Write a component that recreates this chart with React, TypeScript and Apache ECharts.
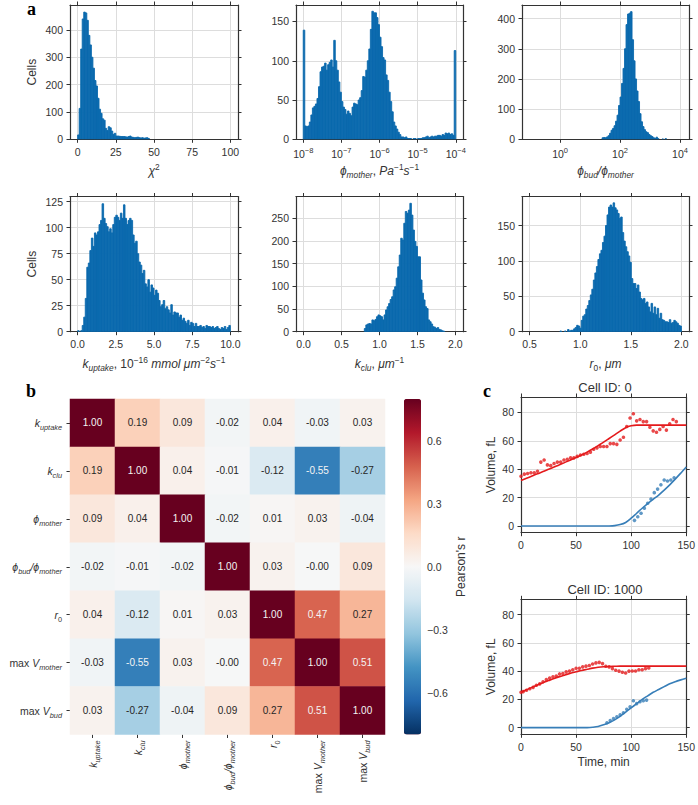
import React, { useEffect, useRef } from "react";
import * as echarts from "echarts";

const HIST_COLOR = "#0b6aae";
const RED = "#e41a1c";
const BLUE = "#377eb8";
const AXIS = "#333333";
const GRIDC = "#dddddd";
const TXT = "#333333";
const FONT = '"Liberation Sans", Arial, sans-serif';

// ---------- panel a: histograms ----------
const chiStart = 0;
const chiWidth = 1;
const chiCounts = [16, 113, 330, 440, 465, 462, 435, 380, 345, 300, 260, 215, 195, 150, 110, 95, 75, 70, 40, 32, 46, 42, 30, 18, 22, 12, 12, 11, 10, 10, 10, 9, 8, 10, 12, 8, 7, 6, 7, 8, 6, 5, 6, 4, 5, 6, 3];
const chiXTicks = [0, 25, 50, 75, 100];
const chiYTicks = [0, 100, 200, 300, 400];

const phiMotherStart = -8; // log10
const phiMotherWidth = 0.04;
const phiMotherCounts = [139, 17, 16, 17, 22, 31, 40, 42, 45, 52, 67, 86, 92, 93, 97, 88, 95, 98, 101, 92, 126, 100, 88, 73, 60, 48, 41, 38, 32, 36, 33, 30, 41, 46, 45, 44, 50, 53, 62, 80, 79, 88, 100, 115, 140, 163, 161, 161, 155, 146, 130, 118, 104, 101, 82, 75, 60, 48, 35, 22, 17, 13, 9, 6, 3, 3, 2, 3, 1, 1, 1, 0, 1, 1, 0, 1, 1, 1, 2, 2, 3, 4, 2, 3, 4, 3, 4, 4, 5, 5, 4, 6, 5, 8, 7, 8, 6, 7, 5, 113];
const phiMotherXTicks = [-8, -7, -6, -5, -4];
const phiMotherYTicks = [0, 50, 100, 150];

const ratioStart = 1.4; // log10
const ratioWidth = 0.05;
const ratioCounts = [5, 6, 5, 8, 12, 20, 30, 36, 45, 60, 80, 112, 140, 185, 235, 300, 380, 415, 418, 423, 330, 260, 200, 160, 125, 85, 58, 42, 32, 25, 22, 16, 12, 9, 5, 3, 7, 2, 0, 0, 1, 0, 2];
const ratioXTicks = [0, 2, 4];
const ratioYTicks = [0, 100, 200, 300, 400];

const kUptakeStart = 0;
const kUptakeWidth = 0.1;
const kUptakeCounts = [1, 0, 1, 6, 14, 32, 62, 66, 78, 90, 82, 95, 93, 96, 103, 107, 123, 109, 104, 101, 96, 99, 95, 103, 110, 112, 110, 107, 114, 109, 122, 109, 103, 107, 109, 107, 93, 85, 87, 75, 67, 64, 56, 59, 46, 43, 50, 38, 45, 42, 35, 40, 37, 30, 24, 26, 30, 22, 24, 21, 18, 26, 16, 19, 18, 18, 14, 16, 11, 13, 10, 8, 11, 6, 9, 8, 5, 8, 5, 5, 6, 4, 5, 3, 6, 5, 5, 4, 5, 3, 4, 5, 3, 2, 4, 3, 5, 2, 4, 6];
const kUptakeXTicks = [0, 2.5, 5, 7.5, 10];
const kUptakeYTicks = [0, 25, 50, 75, 100, 125];

const kCluStart = 0.8;
const kCluWidth = 0.02;
const kCluCounts = [7, 15, 17, 18, 17, 26, 24, 27, 33, 37, 35, 33, 26, 37, 48, 55, 62, 71, 77, 92, 99, 118, 143, 169, 206, 202, 239, 265, 261, 268, 283, 257, 224, 199, 188, 165, 165, 114, 85, 70, 55, 51, 26, 22, 17, 11, 10, 7, 9, 5, 4, 2, 1];
const kCluXTicks = [0, 0.5, 1, 1.5, 2];
const kCluYTicks = [0, 50, 100, 150, 200, 250];

const r0Start = 0.8;
const r0Width = 0.015;
const r0Counts = [1, 0, 0, 1, 0, 3, 1, 2, 2, 4, 6, 9, 8, 5, 16, 22, 24, 32, 37, 44, 52, 60, 73, 83, 92, 102, 110, 115, 126, 135, 150, 165, 176, 179, 176, 182, 175, 172, 167, 160, 162, 140, 128, 120, 113, 107, 98, 75, 68, 68, 61, 66, 56, 47, 45, 47, 40, 42, 35, 28, 40, 26, 35, 24, 33, 19, 26, 17, 16, 14, 14, 13, 17, 12, 13, 16, 14, 12, 9, 8];
const r0XTicks = [0.5, 1, 1.5, 2];
const r0YTicks = [0, 50, 100, 150];

// ---------- panel b: correlation ----------
const corrLabels = [
  "{i|k}{sub|uptake}",
  "{i|k}{sub|clu}",
  "{i|ϕ}{sub|mother}",
  "{i|ϕ}{sub|bud}{i|/ϕ}{sub|mother}",
  "{i|r}{subn|0}",
  "{n|max }{i|V}{sub|mother}",
  "{n|max }{i|V}{sub|bud}",
];
const corrMatrix = [
  [1.0, 0.19, 0.09, -0.02, 0.04, -0.03, 0.03],
  [0.19, 1.0, 0.04, -0.01, -0.12, -0.55, -0.27],
  [0.09, 0.04, 1.0, -0.02, 0.01, 0.03, -0.04],
  [-0.02, -0.01, -0.02, 1.0, 0.03, -0.004, 0.09],
  [0.04, -0.12, 0.01, 0.03, 1.0, 0.47, 0.27],
  [-0.03, -0.55, 0.03, -0.004, 0.47, 1.0, 0.51],
  [0.03, -0.27, -0.04, 0.09, 0.27, 0.51, 1.0],
];
const colorbarTicks = [-0.6, -0.3, 0, 0.3, 0.6];
const RDBU_R = ["#053061", "#2166ac", "#4393c3", "#92c5de", "#d1e5f0", "#f7f7f7", "#fddbc7", "#f4a582", "#d6604d", "#b2182b", "#67001f"];

// ---------- panel c: volume traces ----------
const modelTime = [0, 5, 10, 15, 20, 25, 30, 35, 40, 45, 50, 55, 60, 65, 70, 75, 80, 85, 90, 95, 100, 105, 110, 115, 120, 125, 130, 135, 140, 145, 150];
const cell0MotherModel = [32, 33.6, 35.2, 36.8, 38.3, 39.9, 41.5, 43.1, 44.8, 46.4, 48.2, 50, 52, 54.2, 56.6, 59, 61.6, 64.2, 66.8, 69.2, 70.5, 71, 71, 71, 71, 71, 71, 71, 71, 71, 71];
const cell0BudModel = [0, 0, 0, 0, 0, 0, 0, 0, 0, 0, 0, 0, 0, 0, 0, 0, 0.05, 0.3, 1, 2.5, 5.5, 9, 12.5, 15.8, 18.8, 21.8, 25.3, 29, 33, 37.2, 41.5];
const cell0MotherTime = [0, 3, 6, 9, 12, 15, 18, 21, 24, 27, 30, 33, 36, 39, 42, 45, 48, 51, 54, 57, 60, 63, 66, 69, 72, 75, 78, 81, 84, 87, 90, 93, 96, 99, 102, 105, 108, 111, 114, 117, 120, 123, 126, 129, 132, 135, 138, 141];
const cell0MotherData = [35, 36.5, 37, 37.5, 37.5, 38.5, 45, 46.5, 43, 42.5, 44, 45, 45, 46.5, 47, 48, 48, 49, 50, 50.5, 51, 52, 54, 55, 56, 56, 56, 58, 58, 57.5, 60.5, 62.5, 70, 76, 79, 74, 75, 73.5, 73.5, 69.5, 67, 66, 68, 70, 67.5, 72, 75, 73.5];
const cell0BudTime = [103, 106, 109, 112, 115, 118, 121, 124, 127, 130, 133, 136, 139];
const cell0BudData = [4, 6.5, 9, 12.5, 16, 19, 23.5, 26, 29, 32.4, 31.7, 32.4, 34];

const cell1000MotherModel = [25, 26.8, 28.5, 30.2, 31.8, 33.3, 34.8, 36.1, 37.3, 38.5, 39.5, 40.5, 41.3, 42.1, 42.7, 43.1, 43.3, 43.4, 43.5, 43.5, 43.5, 43.5, 43.5, 43.5, 43.5, 43.5, 43.5, 43.5, 43.5, 43.5, 43.5];
const cell1000BudModel = [0, 0, 0, 0, 0, 0, 0, 0, 0, 0, 0, 0, 0.05, 0.3, 0.8, 2, 3.5, 5.5, 8, 11, 14, 17, 20, 22.5, 25, 27, 29, 31, 32.5, 33.8, 35];
const cell1000MotherTime = [0, 2, 5, 8, 11, 14, 17, 20, 23, 26, 29, 32, 35, 38, 41, 44, 47, 50, 53, 56, 59, 62, 65, 68, 71, 74, 77, 80, 83, 86, 89, 92, 95, 98, 101, 104, 107, 110, 113, 116];
const cell1000MotherData = [25, 25.5, 26.5, 27.5, 28.5, 30, 31, 32.5, 34, 35, 36, 36.5, 38, 38.3, 39.5, 40, 41, 42, 42, 43, 43.5, 44, 45, 45.8, 46.2, 45.3, 43.4, 43, 41.8, 40.6, 40, 39.2, 38.7, 40, 40.1, 40.1, 41, 41, 41.8, 42.2];
const cell1000BudTime = [78, 81, 84, 87, 90, 93, 96, 99, 102, 105, 108, 111, 114];
const cell1000BudData = [3.5, 5, 6.5, 7.7, 9, 10.5, 13, 14.8, 19, 17, 18.3, 19, 19.5];
const timeTicks = [0, 50, 100, 150];
const volumeTicks = [0, 20, 40, 60, 80];

// ---------- helpers ----------
function nameRich(size: number) {
  const sub = size * 0.7;
  return {
    n: { fontSize: size, lineHeight: 16, fontFamily: FONT, color: TXT },
    i: { fontSize: size, lineHeight: 16, fontFamily: FONT, fontStyle: "italic", color: TXT },
    sub: { fontSize: sub, lineHeight: 7, verticalAlign: "bottom", fontFamily: FONT, fontStyle: "italic", color: TXT },
    subn: { fontSize: sub, lineHeight: 7, verticalAlign: "bottom", fontFamily: FONT, color: TXT },
    sup: { fontSize: sub, lineHeight: 9, verticalAlign: "top", fontFamily: FONT, fontStyle: "italic", color: TXT },
    supn: { fontSize: sub, lineHeight: 9, verticalAlign: "top", fontFamily: FONT, color: TXT },
  };
}
const TICK_RICH = {
  b: { fontSize: 10.5, lineHeight: 15, fontFamily: FONT, color: TXT },
  s: { fontSize: 7.5, lineHeight: 8, verticalAlign: "top", fontFamily: FONT, color: TXT },
};
const minus = (v: number, d: number) => (v < 0 ? "−" : "") + Math.abs(v).toFixed(d);
const expFmt = (v: number) => `{b|10}{s|${v < 0 ? "−" : ""}${Math.abs(v)}}`;

function makeBins(start: number, width: number, counts: number[]) {
  const out: number[][] = [];
  counts.forEach((c, i) => {
    if (c > 0) out.push([start + i * width, start + (i + 1) * width, c]);
  });
  return out;
}

function histRender(params: any, api: any) {
  const a = api.coord([api.value(0), api.value(2)]);
  const b = api.coord([api.value(1), 0]);
  return {
    type: "rect",
    shape: { x: a[0], y: a[1], width: b[0] - a[0], height: b[1] - a[1] },
    style: { fill: HIST_COLOR, stroke: HIST_COLOR, lineWidth: 0.9 },
  };
}

function addCartesian(o: any, c: any) {
  const gi = o.grid.length;
  o.grid.push({ left: c.left, top: c.top, width: c.width, height: c.height });
  const line = { show: true, onZero: false, lineStyle: { color: AXIS, width: 1.2 } };
  const tick = (vals: number[]) => ({ show: true, customValues: vals, length: 3.5, inside: false, lineStyle: { color: AXIS, width: 1 } });
  const label = (vals: number[], fmt: any, margin: number) => ({
    show: true, customValues: vals, formatter: fmt, margin, fontSize: 10.5, color: TXT, fontFamily: FONT, rich: TICK_RICH,
  });
  const xi = o.xAxis.length;
  o.xAxis.push({
    gridIndex: gi, type: "value", position: "bottom", min: c.xMin, max: c.xMax,
    axisLine: line, axisTick: tick(c.xTicks), axisLabel: label(c.xTicks, c.xFmt, 7),
    splitLine: { show: true, lineStyle: { color: GRIDC, width: 1 } },
    name: c.xName || "", nameLocation: "middle", nameGap: c.xNameGap || 24,
    nameTextStyle: { fontSize: 12, color: TXT, fontFamily: FONT, rich: nameRich(12) },
  });
  o.xAxis.push({
    gridIndex: gi, type: "value", position: "top", min: c.xMin, max: c.xMax,
    axisLine: line, axisTick: tick(c.xTicks), axisLabel: { show: false }, splitLine: { show: false },
  });
  const yi = o.yAxis.length;
  o.yAxis.push({
    gridIndex: gi, type: "value", position: "left", min: c.yMin, max: c.yMax,
    axisLine: line, axisTick: tick(c.yTicks), axisLabel: label(c.yTicks, c.yFmt || ((v: number) => String(v)), 7),
    splitLine: { show: true, lineStyle: { color: GRIDC, width: 1 } },
    name: c.yName || "", nameLocation: "middle", nameGap: c.yNameGap || 32,
    nameTextStyle: { fontSize: 12, color: TXT, fontFamily: FONT },
  });
  o.yAxis.push({
    gridIndex: gi, type: "value", position: "right", min: c.yMin, max: c.yMax,
    axisLine: line, axisTick: tick(c.yTicks), axisLabel: { show: false }, splitLine: { show: false },
  });
  return { xi, yi };
}

function buildOption() {
  const o: any = { grid: [], xAxis: [], yAxis: [], series: [] };
  const hists = [
    { left: 70, top: 5, width: 168, height: 134.3, xMin: -5, xMax: 105, xTicks: chiXTicks, xFmt: (v: number) => String(v), yMax: 491, yTicks: chiYTicks, bins: makeBins(chiStart, chiWidth, chiCounts), xName: "{i|χ}{supn|2}", yName: "Cells" },
    { left: 296, top: 5, width: 167, height: 134.3, xMin: -8.19, xMax: -3.81, xTicks: phiMotherXTicks, xFmt: expFmt, yMax: 171, yTicks: phiMotherYTicks, bins: makeBins(phiMotherStart, phiMotherWidth, phiMotherCounts), xName: "{i|ϕ}{sub|mother}{n|, }{i|Pa}{supn|−1}{i|s}{supn|−1}" },
    { left: 522, top: 5, width: 167, height: 134.3, xMin: -1.27, xMax: 4.3, xTicks: ratioXTicks, xFmt: expFmt, yMax: 445, yTicks: ratioYTicks, bins: makeBins(ratioStart, ratioWidth, ratioCounts), xName: "{i|ϕ}{sub|bud}{i|/ϕ}{sub|mother}" },
    { left: 70, top: 196.5, width: 168, height: 135.2, xMin: -0.5, xMax: 10.5, xTicks: kUptakeXTicks, xFmt: (v: number) => v.toFixed(1), yMax: 130, yTicks: kUptakeYTicks, bins: makeBins(kUptakeStart, kUptakeWidth, kUptakeCounts), xName: "{i|k}{sub|uptake}{n|, 10}{supn|−16}{i| mmol μm}{supn|−2}{i|s}{supn|−1}", yName: "Cells" },
    { left: 296, top: 196.5, width: 167, height: 135.2, xMin: -0.1, xMax: 2.1, xTicks: kCluXTicks, xFmt: (v: number) => v.toFixed(1), yMax: 298, yTicks: kCluYTicks, bins: makeBins(kCluStart, kCluWidth, kCluCounts), xName: "{i|k}{sub|clu}{n|, }{i|μm}{supn|−1}" },
    { left: 522, top: 196.5, width: 167, height: 135.2, xMin: 0.425, xMax: 2.075, xTicks: r0XTicks, xFmt: (v: number) => v.toFixed(1), yMax: 191, yTicks: r0YTicks, bins: makeBins(r0Start, r0Width, r0Counts), xName: "{i|r}{subn|0}{n|, }{i|μm}" },
  ];
  hists.forEach((h) => {
    const { xi, yi } = addCartesian(o, { ...h, yMin: 0, xNameGap: 24, yNameGap: 32 });
    o.series.push({
      type: "custom", xAxisIndex: xi, yAxisIndex: yi, renderItem: histRender,
      data: h.bins, encode: { x: [0, 1], y: 2 }, clip: true, silent: true,
    });
  });

  // heatmap
  const hg = o.grid.length;
  o.grid.push({ left: 70, top: 399, width: 315, height: 335.5 });
  const hr = nameRich(10.5);
  const hxi = o.xAxis.length;
  o.xAxis.push({
    gridIndex: hg, type: "category", data: corrLabels, position: "bottom",
    axisLine: { show: false }, axisTick: { show: true, alignWithLabel: true, length: 3.5, lineStyle: { color: AXIS } },
    axisLabel: { rotate: 90, margin: 6, fontSize: 10.5, color: TXT, fontFamily: FONT, rich: hr, interval: 0 },
    splitLine: { show: false }, splitArea: { show: false },
  });
  const hyi = o.yAxis.length;
  o.yAxis.push({
    gridIndex: hg, type: "category", data: corrLabels, inverse: true,
    axisLine: { show: false }, axisTick: { show: true, alignWithLabel: true, length: 3.5, lineStyle: { color: AXIS } },
    axisLabel: { margin: 8, fontSize: 10.5, color: TXT, fontFamily: FONT, rich: hr, interval: 0 },
    splitLine: { show: false }, splitArea: { show: false },
  });
  const heatData: any[] = [];
  corrMatrix.forEach((row, r) =>
    row.forEach((v, c) => {
      heatData.push({ value: [c, r, v], label: { color: Math.abs(v) > 0.44 ? "#f4f4f4" : "#262626" } });
    })
  );
  const heatIndex = o.series.length;
  o.series.push({
    type: "heatmap", xAxisIndex: hxi, yAxisIndex: hyi, data: heatData,
    label: { show: true, fontSize: 10, fontFamily: FONT, formatter: (p: any) => p.value[2].toFixed(2) },
    itemStyle: { borderWidth: 0 }, emphasis: { disabled: true }, silent: true,
  });

  // colorbar axis
  const cg = o.grid.length;
  o.grid.push({ left: 404, top: 399, width: 17, height: 335.5 });
  o.xAxis.push({ gridIndex: cg, type: "value", show: false, min: 0, max: 1 });
  o.yAxis.push({
    gridIndex: cg, type: "value", position: "right", min: -0.8, max: 0.8,
    axisLine: { show: false },
    axisTick: { show: true, customValues: colorbarTicks, length: 3.5, lineStyle: { color: AXIS } },
    axisLabel: { customValues: colorbarTicks, formatter: (v: number) => minus(v, 1), margin: 6, fontSize: 10.5, color: TXT, fontFamily: FONT },
    splitLine: { show: false },
    name: "Pearson's r", nameLocation: "middle", nameGap: 34, nameRotate: 90,
    nameTextStyle: { fontSize: 12, color: TXT, fontFamily: FONT },
  });
  o.visualMap = [{
    type: "continuous", min: -0.8, max: 0.8, seriesIndex: heatIndex, dimension: 2,
    calculable: false, hoverLink: false, orient: "vertical", left: 404, top: 399,
    itemWidth: 17, itemHeight: 335.5, padding: 0, text: ["", ""], textGap: 0,
    inRange: { color: RDBU_R }, outOfRange: { color: ["#67001f"] },
  }];

  // panel c
  const cells = [
    { top: 397, height: 135.7, mm: cell0MotherModel, bm: cell0BudModel, mt: cell0MotherTime, md: cell0MotherData, bt: cell0BudTime, bd: cell0BudData, xName: "" },
    { top: 599.3, height: 135, mm: cell1000MotherModel, bm: cell1000BudModel, mt: cell1000MotherTime, md: cell1000MotherData, bt: cell1000BudTime, bd: cell1000BudData, xName: "Time, min" },
  ];
  cells.forEach((c) => {
    const { xi, yi } = addCartesian(o, {
      left: 521, top: c.top, width: 168, height: c.height,
      xMin: 0, xMax: 150, xTicks: timeTicks, xFmt: (v: number) => String(v),
      yMin: -4.7, yMax: 90.8, yTicks: volumeTicks, yName: "Volume, fL", yNameGap: 24,
      xName: c.xName, xNameGap: 22,
    });
    const zip = (t: number[], v: number[]) => t.map((x, i) => [x, v[i]]);
    o.series.push(
      { type: "line", xAxisIndex: xi, yAxisIndex: yi, data: zip(modelTime, c.mm), showSymbol: false, smooth: 0.3, lineStyle: { color: RED, width: 1.6 }, itemStyle: { color: RED }, silent: true },
      { type: "scatter", xAxisIndex: xi, yAxisIndex: yi, data: zip(c.mt, c.md), symbolSize: 3.6, itemStyle: { color: RED }, silent: true },
      { type: "line", xAxisIndex: xi, yAxisIndex: yi, data: zip(modelTime, c.bm), showSymbol: false, smooth: 0.3, lineStyle: { color: BLUE, width: 1.6 }, itemStyle: { color: BLUE }, silent: true },
      { type: "scatter", xAxisIndex: xi, yAxisIndex: yi, data: zip(c.bt, c.bd), symbolSize: 3.6, itemStyle: { color: BLUE }, silent: true },
    );
  });

  const letter = (t: string, x: number, y: number) => ({
    type: "text", x, y, style: { text: t, font: 'bold 18px "Liberation Serif", serif', fill: "#000", verticalAlign: "middle" },
  });
  const title = (t: string, x: number, y: number) => ({
    type: "text", x, y, style: { text: t, font: '13px "Liberation Sans", Arial, sans-serif', fill: TXT, align: "center", verticalAlign: "middle" },
  });
  o.graphic = [
    letter("a", 27, 9),
    letter("b", 26, 391),
    letter("c", 483, 391),
    title("Cell ID: 0", 605, 387),
    title("Cell ID: 1000", 605, 589),
  ];
  o.animation = false;
  o.textStyle = { fontFamily: FONT };
  return o;
}

export default function App() {
  const ref = useRef<HTMLDivElement>(null);
  useEffect(() => {
    const chart = echarts.init(ref.current as HTMLDivElement, undefined, { renderer: "svg" });
    chart.setOption(buildOption());
    return () => chart.dispose();
  }, []);
  return <div ref={ref} style={{ position: "fixed", left: 0, top: 0, width: 698, height: 805, background: "#fff" }} />;
}
